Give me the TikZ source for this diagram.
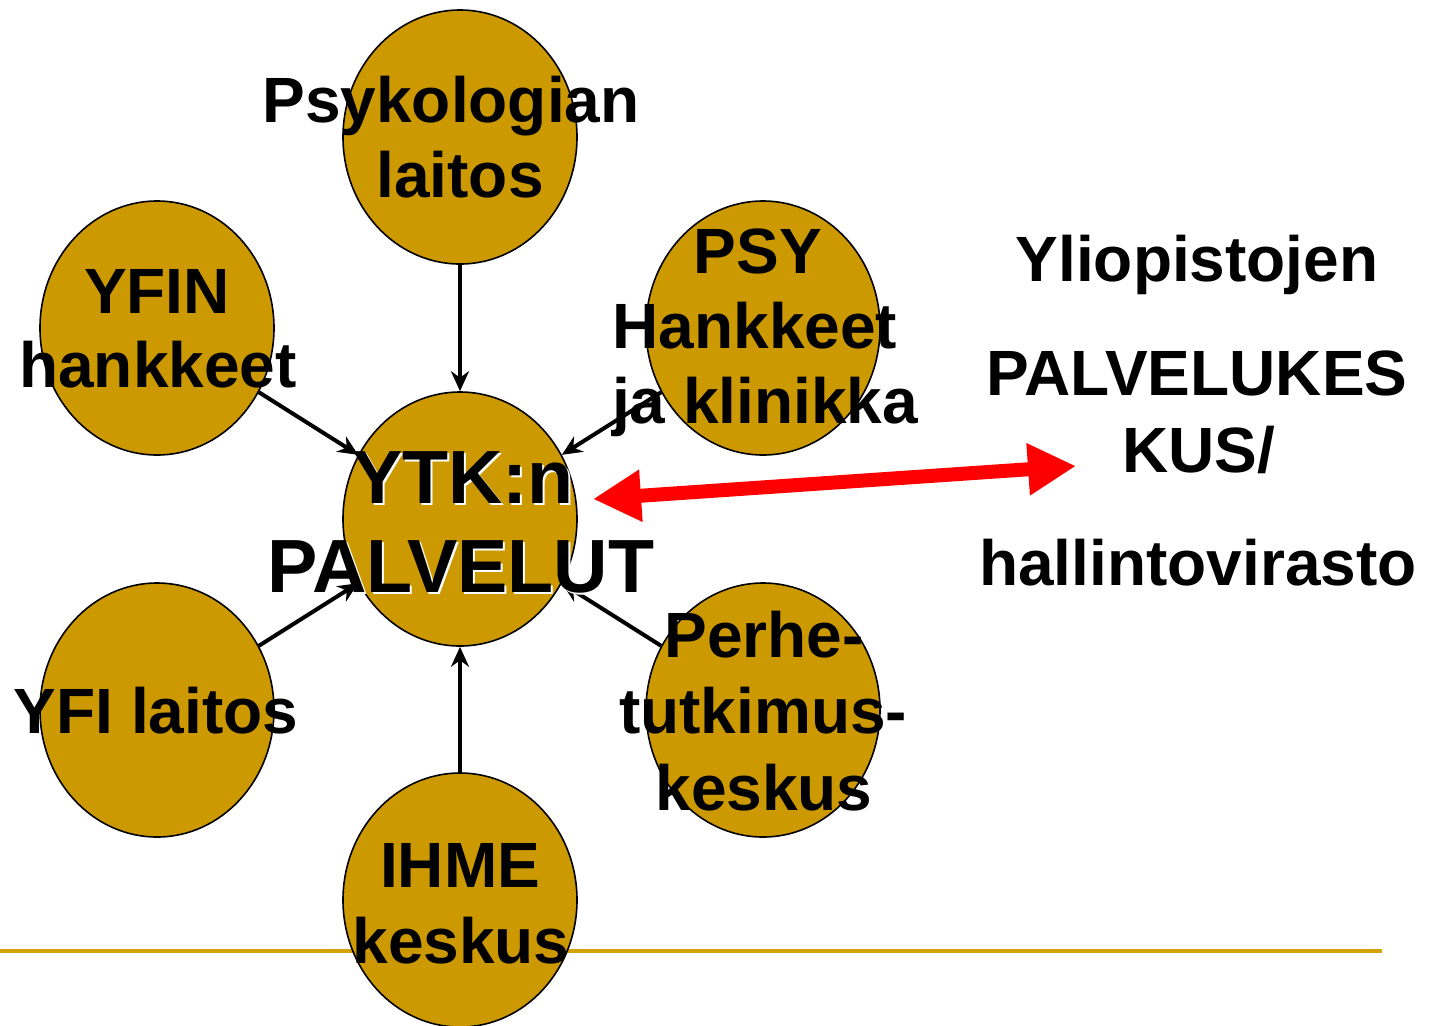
\documentclass[tikz,border=0pt]{standalone}
\usepackage{fontspec}
\setmainfont{Liberation Sans}
\usetikzlibrary{shapes.geometric,arrows.meta}
\definecolor{gold}{HTML}{CC9900}
\definecolor{lineGold}{HTML}{D4A20A}
\tikzset{
  blob/.style={ellipse,draw=black,line width=0.8pt,fill=gold,inner sep=0pt,minimum width=117pt,minimum height=127pt},
  lbl/.style={anchor=base,inner sep=0pt,font=\fontsize{32}{38}\selectfont\bfseries},
  big/.style={anchor=base,inner sep=0pt,font=\fontsize{37.7}{44}\selectfont\bfseries},
  arr/.style={line width=2pt,-{Stealth[length=10pt,width=9pt]}},
  redarr/.style={line width=7pt,red,{Triangle[length=24pt,width=24.5pt]}-{Triangle[length=24pt,width=24.5pt]}}
}
\begin{document}
\begin{tikzpicture}[x=0.5pt,y=-0.5pt]
\path[use as bounding box,fill=white] (0,0) rectangle (1430,1025);
% bottom rule
\coordinate (ruleL) at (0,951);
\coordinate (ruleR) at (1382,951);
\draw[lineGold,line width=2.2pt] (ruleL) -- (ruleR);
% ellipses
\node[blob] (psyk) at (460,137) {};
\node[blob] (yfin) at (157,328) {};
\node[blob] (psy)  at (763,328) {};
\node[blob] (ytk)  at (460,519) {};
\node[blob] (yfi)  at (157,710) {};
\node[blob] (perhe) at (763,710) {};
\node[blob] (ihme) at (460,900) {};
% connectors
\draw[arr] (psyk) -- (ytk);
\draw[arr] (yfin) -- (ytk);
\draw[arr] (psy) -- (ytk);
\draw[arr] (yfi) -- (ytk);
\draw[arr] (perhe) -- (ytk);
\draw[arr] (ihme) -- (ytk);
% red double arrow
\coordinate (rl) at (593,499);
\coordinate (rr) at (1076,466);
\draw[redarr] (rl) -- (rr);
% texts
\node[lbl] (psykA) at (451,122) {Psykologian};
\node[lbl] (psykB) at (460,197) {laitos};
\node[lbl] (yfinA) at (157,313) {YFIN};
\node[lbl] (yfinB) at (158,387) {hankkeet};
\node[lbl] (psyA) at (758,273) {PSY};
\node[lbl] (psyB) at (755,348) {Hankkeet};
\node[lbl] (psyC) at (765,423) {ja klinikka};
\node[lbl] (yfiA) at (156,733) {YFI laitos};
\node[lbl] (perheA) at (764,657) {Perhe-};
\node[lbl] (perheB) at (763,733) {tutkimus-};
\node[lbl] (perheC) at (764,810) {keskus};
\node[lbl] (ihmeA) at (460,887) {IHME};
\node[lbl] (ihmeB) at (461,963) {keskus};
% YTK text with white shadow
\node[big,white] (ytkAs) at (465,505) {YTK:n};
\node[big,white] (ytkBs) at (463,594) {PALVELUT};
\node[big] (ytkA) at (463,503) {YTK:n};
\node[big] (ytkB) at (461,592) {PALVELUT};
% right text
\node[lbl] (rA) at (1197,281) {Yliopistojen};
\node[lbl] (rB) at (1197,395) {PALVELUKES};
\node[lbl] (rC) at (1199,472) {KUS/};
\node[lbl] (rD) at (1198,585) {hallintovirasto};
\end{tikzpicture}
\end{document}
